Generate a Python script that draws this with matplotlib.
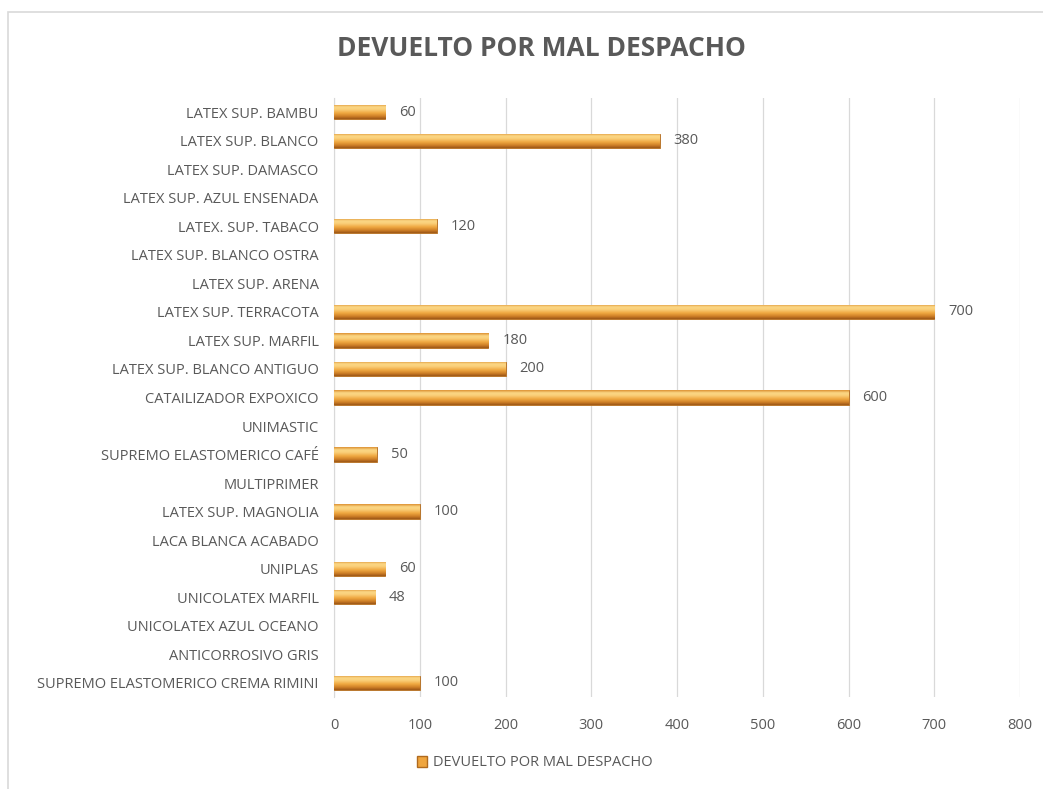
import numpy as np
import matplotlib
matplotlib.use('Agg')
from matplotlib import pyplot as plt
from matplotlib.colors import LinearSegmentedColormap
from matplotlib.patches import Rectangle, Patch

plt.rcParams['font.family'] = ['Open Sans', 'DejaVu Sans']

categories = [
    'LATEX SUP. BAMBU', 'LATEX SUP. BLANCO', 'LATEX SUP. DAMASCO',
    'LATEX SUP. AZUL ENSENADA', 'LATEX. SUP. TABACO', 'LATEX SUP. BLANCO OSTRA',
    'LATEX SUP. ARENA', 'LATEX SUP. TERRACOTA', 'LATEX SUP. MARFIL',
    'LATEX SUP. BLANCO ANTIGUO', 'CATAILIZADOR EXPOXICO', 'UNIMASTIC',
    'SUPREMO ELASTOMERICO CAFÉ', 'MULTIPRIMER', 'LATEX SUP. MAGNOLIA',
    'LACA BLANCA ACABADO', 'UNIPLAS', 'UNICOLATEX MARFIL',
    'UNICOLATEX AZUL OCEANO', 'ANTICORROSIVO GRIS',
    'SUPREMO ELASTOMERICO CREMA RIMINI',
]
values = [60, 380, None, None, 120, None, None, 700, 180, 200, 600, None,
          50, None, 100, None, 60, 48, None, None, 100]
x_ticks = [0, 100, 200, 300, 400, 500, 600, 700, 800]
series_name = 'DEVUELTO POR MAL DESPACHO'
title = 'DEVUELTO POR MAL DESPACHO'

text_color = '#595959'
grad = LinearSegmentedColormap.from_list('cyl', [
    (0.0, '#DC8F30'), (0.18, '#FBD886'), (0.35, '#FAD07A'),
    (0.6, '#F0A840'), (0.85, '#C97A24'), (1.0, '#9A5516')])

fig = plt.figure(figsize=(10.43, 7.89), dpi=100)
fig.patches.append(Rectangle((8 / 1043, -0.1), 1.2, 1.1 - 12 / 789,
                             transform=fig.transFigure, fill=False,
                             edgecolor='#D9D9D9', linewidth=1.2))
ax = fig.add_axes([334 / 1043, 1 - 697 / 789, (1020 - 334) / 1043, (697 - 98) / 789])

y = np.arange(len(categories))
idx = [i for i, v in enumerate(values) if v is not None]
bars = ax.barh([y[i] for i in idx], [values[i] for i in idx], height=0.5,
               color='#EFA53E', edgecolor='#B06A1E', linewidth=0.6, zorder=3)

# cylinder-like shading on each bar
g = np.linspace(0, 1, 64).reshape(-1, 1)
for b, i in zip(bars, idx):
    x0, y0, w, h = b.get_x(), b.get_y(), b.get_width(), b.get_height()
    im = ax.imshow(g, cmap=grad, aspect='auto', extent=[x0, x0 + w, y0 + h, y0],
                   origin='upper', zorder=4, interpolation='bicubic')
    im.set_clip_path(b)
    ax.annotate(str(values[i]), (x0 + w, y0 + h / 2), xytext=(10, 0),
                textcoords='offset points', va='center', ha='left',
                fontsize=10.5, color=text_color)

ax.set_xlim(0, 800)
ax.set_ylim(len(categories) - 0.5, -0.5)
ax.set_xticks(x_ticks)
ax.set_yticks(y)
ax.set_yticklabels(categories, fontsize=10.5, color=text_color)
ax.tick_params(axis='x', labelsize=10.5, colors=text_color, length=0, pad=15)
ax.tick_params(axis='y', length=0, pad=11)
ax.grid(axis='x', color='#D9D9D9', linewidth=0.9, zorder=0)
for s in ['top', 'right', 'bottom']:
    ax.spines[s].set_visible(False)
ax.spines['left'].set_color('#D9D9D9')

fig.text(541 / 1043, 1 - 49 / 789, title, ha='center', va='center',
         fontsize=19, fontweight='bold', color=text_color)

handle = Patch(facecolor='#EFA53E', edgecolor='#B06A1E')
fig.legend([handle], [series_name], loc='center', bbox_to_anchor=(535 / 1043, 1 - 763 / 789),
           frameon=False, fontsize=10.5, labelcolor=text_color,
           handlelength=0.7, handleheight=0.7, handletextpad=0.4)

fig.savefig('out.png', dpi=100)
